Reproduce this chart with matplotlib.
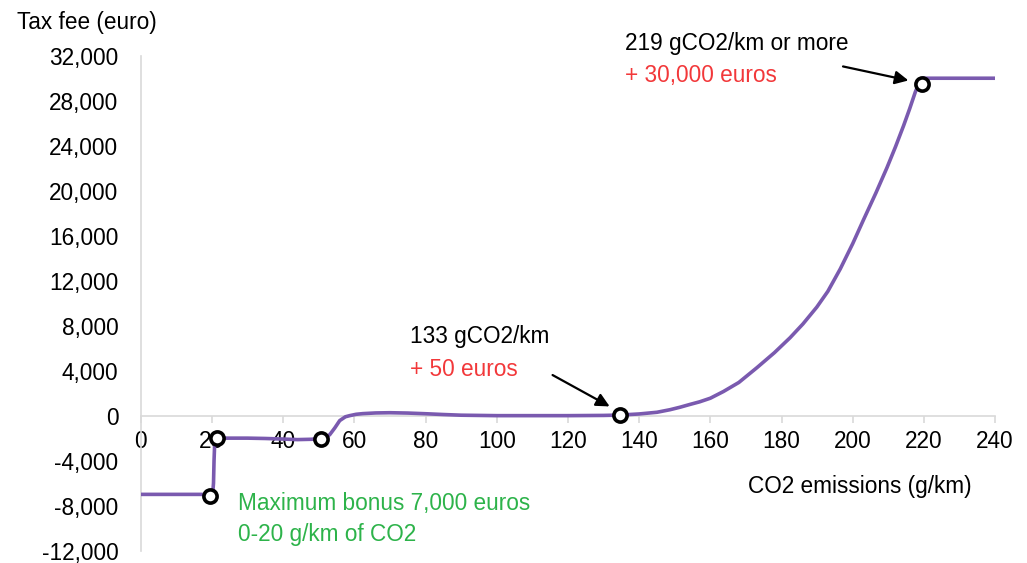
import matplotlib.pyplot as plt
from matplotlib.ticker import FuncFormatter

plt.rcParams["font.family"] = ["Liberation Sans", "DejaVu Sans"]

# curve (g/km, euro)
co2 = [0, 10, 17, 18.5, 19.5, 20.2, 20.45, 20.6, 20.8, 21.4, 25, 30, 35, 40, 44, 48,
       50.6, 52, 53.1, 54.5, 55.9, 57.5, 58.7, 60.5, 62.4, 66, 70, 75, 80, 85, 90,
       100, 110, 120, 130, 134.5, 140, 145, 148.7, 151.5, 154.3, 157, 160, 163.7,
       168, 173.1, 178, 182.4, 186, 189.9, 193, 196.5, 200, 203, 206.5, 209.6, 212,
       214.3, 216, 217.6, 218.8, 219.8, 220.5, 230, 240]
fee = [-7000, -7000, -7000, -7030, -7100, -7000, -6000, -4000, -2300, -2000, -2000,
       -2000, -2030, -2080, -2130, -2100, -2040, -1950, -1690, -1100, -440, -100, 0,
       120, 180, 240, 260, 230, 170, 100, 40, 0, 0, 0, 20, 50, 150, 300, 530, 750,
       1000, 1230, 1550, 2150, 2950, 4270, 5600, 6930, 8150, 9650, 11050, 13050,
       15300, 17400, 19800, 22040, 23900, 25800, 27300, 28800, 29700, 30000, 30000,
       30000, 30000]

# highlighted points
mark_x = [19.5, 21.4, 50.6, 134.5, 219.5]
mark_y = [-7100, -2000, -2040, 50, 29500]

x_ticks = list(range(0, 241, 20))
y_ticks = list(range(-12000, 32001, 4000))

fig = plt.figure(figsize=(10.27, 5.63), dpi=100)
ax = fig.add_axes([0.137, 0.022, 0.832, 0.879])

ax.plot(co2, fee, color="#7a5aaf", lw=2.6, solid_capstyle="butt", zorder=3)
ax.plot(mark_x, mark_y, "o", ms=9.5, mfc="white", mec="black", mew=2.6, zorder=4)

ax.set_xlim(0, 240)
ax.set_ylim(-12000, 32000)
ax.set_xticks(x_ticks)
ax.set_yticks(y_ticks)
ax.yaxis.set_major_formatter(FuncFormatter(lambda v, p: f"{v:,.0f}"))

for s in ["top", "right"]:
    ax.spines[s].set_visible(False)
ax.spines["bottom"].set_position(("data", 0))
for s in ["left", "bottom"]:
    ax.spines[s].set_color("#d9d9d9")
    ax.spines[s].set_linewidth(1.2)

ax.tick_params(axis="x", direction="out", length=5, width=1.2, color="#d9d9d9",
               labelsize=16.3, pad=5)
ax.tick_params(axis="y", length=0, labelsize=16.3, pad=16)

fig.text(17 / 1027, 1 - 23 / 563, "Tax fee (euro)", fontsize=16.3, va="center", ha="left")
ax.text(170.6, -6300, "CO2 emissions (g/km)", fontsize=16.3, va="center", ha="left")

red = "#f2383a"
green = "#2db34a"
ax.text(136, 33050, "219 gCO2/km or more", fontsize=16.3, va="center", ha="left")
ax.text(136, 30200, "+ 30,000 euros", fontsize=16.3, color=red, va="center", ha="left")
ax.annotate("", xy=(216.4, 29750), xytext=(196.5, 31100), annotation_clip=False,
            arrowprops=dict(arrowstyle="-|>", color="black", lw=1.6, mutation_scale=20))

ax.text(75.6, 7020, "133 gCO2/km", fontsize=16.3, va="center", ha="left")
ax.text(75.6, 4090, "+ 50 euros", fontsize=16.3, color=red, va="center", ha="left")
ax.annotate("", xy=(132.4, 700), xytext=(115, 3730),
            arrowprops=dict(arrowstyle="-|>", color="black", lw=1.6, mutation_scale=20))

ax.text(27.3, -7820, "Maximum bonus 7,000 euros", fontsize=16.3, color=green,
        va="center", ha="left")
ax.text(27.3, -10580, "0-20 g/km of CO2", fontsize=16.3, color=green,
        va="center", ha="left")

plt.savefig("out.png", dpi=100)
